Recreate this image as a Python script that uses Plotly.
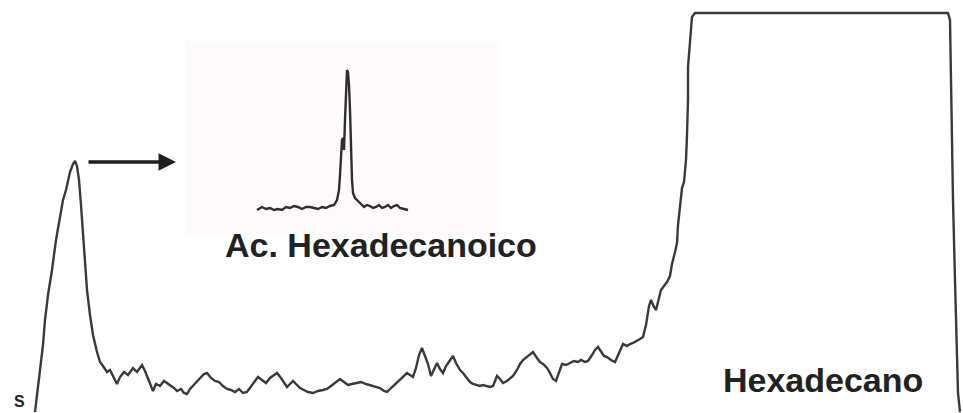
import plotly.graph_objects as go

# Main chromatogram trace (retention position, detector signal)
time_main = [35, 38, 40, 43, 45, 48, 52, 56, 60, 63, 66, 70, 73, 75, 77, 79, 81, 83, 85, 87, 90, 93, 97, 100,
             103, 107, 110, 114, 117, 120, 124, 128, 133, 137, 142, 145, 148, 151, 153, 156, 160, 164, 167,
             171, 174, 177, 181, 184, 187, 190, 193, 197, 201, 204, 207, 211, 215, 219, 223, 227, 231, 235,
             239, 243, 247, 251, 255, 258, 262, 266, 270, 274, 277, 281, 284, 287, 290, 293, 297, 300, 304,
             308, 313, 318, 323, 327, 331, 335, 340, 344, 348, 352, 357, 361, 366, 370, 375, 380, 384, 387,
             391, 395, 399, 403, 407, 410, 413, 416, 419, 422, 425, 428, 431, 434, 437, 440, 443, 446, 450,
             453, 456, 460, 463, 467, 470, 473, 477, 480, 483, 487, 490, 493, 497, 500, 503, 507, 510, 513,
             517, 520, 523, 527, 530, 533, 537, 540, 543, 547, 550, 553, 556, 559, 562, 566, 570, 574, 578,
             581, 585, 588, 592, 595, 598, 601, 604, 607, 611, 615, 618, 621, 623, 627, 630, 633, 637, 640,
             643, 646, 649, 651, 654, 656, 659, 661, 664, 667, 670, 672, 675, 677, 678, 680, 682, 684, 686,
             687, 688, 688, 690, 692, 695, 948, 950, 951, 953, 955, 957, 958, 960]
signal_main = [1, 23, 43, 68, 93, 118, 143, 173, 198, 213, 223, 241, 249, 252, 247, 233, 208, 178, 148, 123,
               98, 78, 61, 51, 47, 41, 43, 35, 29, 36, 41, 38, 45, 41, 48, 42, 34, 26, 22, 29, 27, 32, 30,
               27, 25, 22, 24, 20, 19, 24, 27, 32, 36, 39, 40, 35, 32, 31, 27, 24, 23, 21, 24, 20, 21, 27,
               32, 36, 33, 30, 35, 38, 40, 35, 30, 26, 29, 32, 28, 25, 23, 21, 20, 22, 23, 24, 27, 30, 34,
               31, 28, 29, 30, 31, 29, 28, 26, 25, 22, 21, 25, 29, 32, 37, 40, 38, 36, 45, 58, 65, 57, 49,
               37, 43, 50, 44, 40, 47, 53, 57, 50, 43, 40, 35, 31, 29, 28, 27, 28, 27, 26, 27, 37, 34, 30,
               32, 35, 37, 43, 49, 53, 56, 58, 61, 55, 51, 49, 45, 40, 34, 32, 41, 49, 48, 50, 52, 51, 53,
               51, 52, 58, 63, 66, 62, 57, 56, 53, 51, 58, 65, 69, 67, 69, 70, 72, 74, 76, 88, 107, 113, 106,
               103, 115, 123, 127, 131, 137, 149, 161, 170, 188, 208, 225, 231, 253, 278, 313, 346, 373,
               396, 400, 400, 393, 313, 213, 133, 63, 20, 1]

# Inset: hexadecanoic acid peak
time_inset = [257, 262, 266, 270, 274, 278, 282, 286, 290, 294, 298, 302, 306, 310, 314, 318, 322, 326, 330,
              334, 337, 339, 340, 341, 342, 343, 344, 345, 346, 347, 348, 349, 350, 351, 352, 353, 355, 358,
              361, 364, 367, 370, 373, 376, 379, 382, 385, 388, 391, 394, 397, 400, 404, 408]
signal_inset = [203, 206, 204, 205, 203, 204, 203, 206, 205, 207, 206, 204, 206, 206, 205, 204, 206, 205,
                207, 208, 213, 223, 238, 258, 273, 275, 263, 293, 328, 343, 341, 328, 303, 263, 233, 220,
                215, 212, 209, 206, 208, 207, 205, 206, 208, 205, 206, 208, 205, 207, 208, 205, 204, 203]

label_inset = "Ac. Hexadecanoico"
label_main = "Hexadecano"
label_start = "S"

fig = go.Figure()

fig.add_trace(go.Scatter(x=time_main, y=signal_main, mode="lines",
                         line=dict(color="#3a3a3a", width=2.4, shape="linear"),
                         hoverinfo="skip", showlegend=False))
fig.add_trace(go.Scatter(x=time_inset, y=signal_inset, mode="lines",
                         line=dict(color="#2e2e2e", width=2.4),
                         hoverinfo="skip", showlegend=False))

# faint tinted panel behind the inset
fig.add_shape(type="rect", x0=185, x1=500, y0=178, y1=372, xref="x", yref="y",
              line=dict(width=0), fillcolor="rgba(245,205,215,0.10)", layer="below")

font_bold = dict(family="Liberation Sans, Arial, sans-serif", size=34, color="#222222")

fig.add_annotation(x=381, y=168, xref="x", yref="y", text="<b>" + label_inset + "</b>",
                   showarrow=False, font=font_bold, xanchor="center", yanchor="middle")
fig.add_annotation(x=823, y=33, xref="x", yref="y", text="<b>" + label_main + "</b>",
                   showarrow=False, font=font_bold, xanchor="center", yanchor="middle")
fig.add_annotation(x=19, y=12, xref="x", yref="y", text="<b>" + label_start + "</b>",
                   showarrow=False, font=dict(family="Liberation Sans, Arial, sans-serif", size=16,
                                              color="#222222"),
                   xanchor="center", yanchor="middle")

# arrow pointing from the first peak toward the inset
fig.add_annotation(x=176, y=251, ax=87, ay=251, xref="x", yref="y", axref="x", ayref="y",
                   text="", showarrow=True, arrowhead=2, arrowsize=1.0, arrowwidth=3.5,
                   arrowcolor="#1e1e1e")

fig.update_xaxes(range=[0, 963], visible=False, fixedrange=True)
fig.update_yaxes(range=[0, 413], visible=False, fixedrange=True)
fig.update_layout(width=963, height=413, margin=dict(l=0, r=0, t=0, b=0),
                  paper_bgcolor="white", plot_bgcolor="white")

fig.write_html("out.html")
